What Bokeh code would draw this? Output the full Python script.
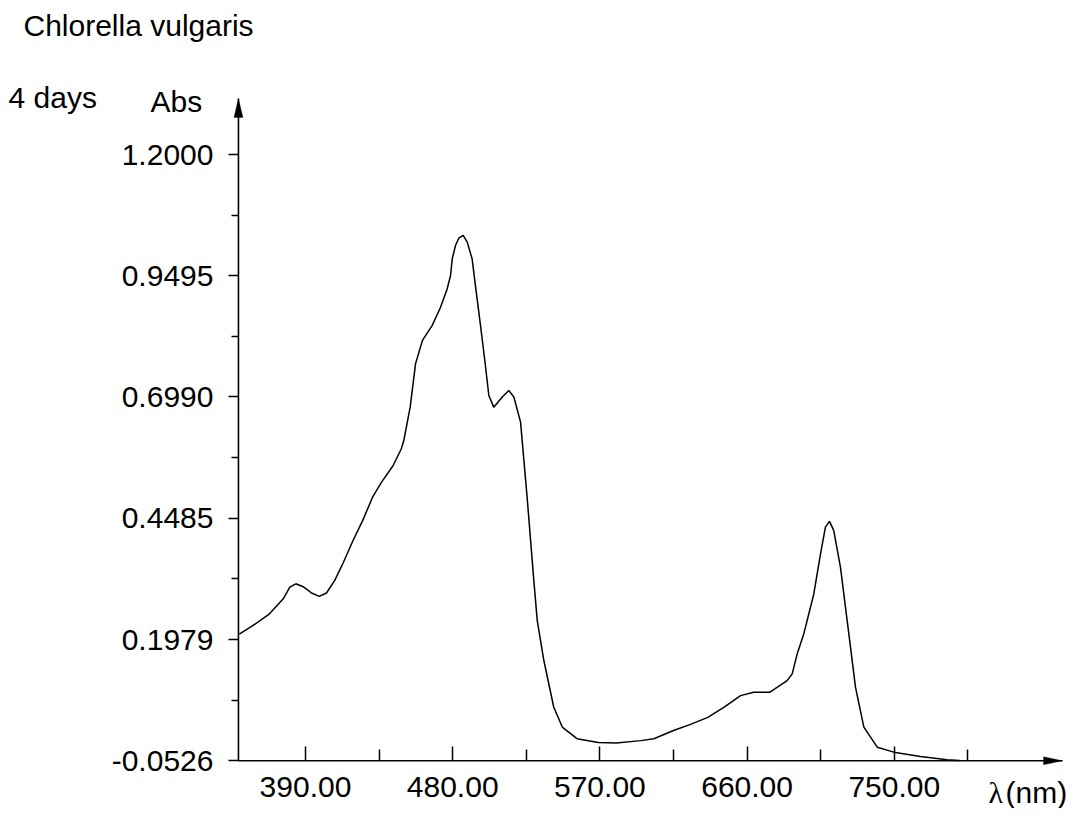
from bokeh.plotting import figure
from bokeh.models import (Range1d, FixedTicker, PrintfTickFormatter, Label,
                          Arrow, PolyAnnotation)
from bokeh.embed import file_html
from bokeh.resources import INLINE

# ---------------- data ----------------
title_text = "Chlorella vulgaris"
sample_text = "4 days"
y_axis_title = "Abs"
x_axis_symbol = "λ"
x_axis_unit = "(nm)"

wavelength = [349.5, 358, 368, 376.4, 380.4, 384.1, 388.6, 393.7, 398.4, 402.8,
              407.9, 413, 419, 425, 431, 436.5, 443.5, 448.6, 450.1, 454, 457.3,
              461.5, 467.5, 472.5, 476.6, 478.7, 479.7, 481.7, 483.7, 486.4,
              488.9, 491.9, 493.9, 497, 500, 502.1, 505.1, 510.3, 514.3, 517.4,
              521.5, 525.5, 529.6, 531.7, 533.7, 535.7, 541.8, 547, 556, 569,
              580, 595, 603, 615, 625, 636, 646, 656, 664, 674, 684.5, 687.6,
              690.6, 694.7, 700.8, 704.9, 707.9, 710.4, 713, 717.1, 722.2,
              726.3, 731.4, 739.6, 749.7, 766, 782.3, 790]
absorbance = [0.209, 0.227, 0.251, 0.282, 0.306, 0.313, 0.307, 0.294, 0.287,
              0.294, 0.320, 0.356, 0.402, 0.444, 0.492, 0.523, 0.557, 0.592,
              0.609, 0.678, 0.768, 0.816, 0.847, 0.884, 0.922, 0.950, 0.984,
              1.012, 1.027, 1.033, 1.019, 0.984, 0.929, 0.847, 0.764, 0.702,
              0.678, 0.699, 0.7125, 0.699, 0.647, 0.492, 0.320, 0.237, 0.196,
              0.155, 0.058, 0.017, -0.007, -0.015, -0.016, -0.011, -0.007,
              0.010, 0.022, 0.037, 0.058, 0.082, 0.089, 0.089, 0.113, 0.127,
              0.168, 0.210, 0.292, 0.375, 0.430, 0.442, 0.423, 0.347, 0.210,
              0.099, 0.017, -0.0245, -0.0348, -0.0437, -0.0506, -0.052]

x_major_ticks = [390, 480, 570, 660, 750]
x_minor_ticks = [435, 525, 615, 705, 795]
y_major_ticks = [-0.0526, 0.1979, 0.4485, 0.6990, 0.9495, 1.2000]
y_minor_ticks = [0.0726, 0.3232, 0.5737, 0.8242, 1.0747]

# ---------------- layout ----------------
W, H = 1074, 808
PXX = 1.6355      # px per nm
PXY = 484.0       # px per Abs unit
REF_X, REF_PX = 390.0, 305.0
REF_Y, REF_PY = 1.2, 154.0
X0 = 349.0        # where the axes cross
Y0 = -0.0526


def dx(px):
    return REF_X + (px - REF_PX) / PXX


def dy(py):
    return REF_Y - (py - REF_PY) / PXY


FONT = "Liberation Sans"
FS = "30px"

p = figure(width=W, height=H,
           x_range=Range1d(dx(0), dx(W)), y_range=Range1d(dy(H), dy(0)),
           output_backend="svg", toolbar_location=None,
           min_border_left=0, min_border_right=0, min_border_top=0,
           min_border_bottom=0)
p.outline_line_color = None
p.grid.visible = False
p.background_fill_color = "white"
p.border_fill_color = "white"

xa = p.xaxis[0]
xa.fixed_location = Y0
xa.ticker = FixedTicker(ticks=x_major_ticks, minor_ticks=x_minor_ticks)
xa.formatter = PrintfTickFormatter(format="%.2f")
xa.axis_line_color = None
xa.major_tick_in = 14
xa.major_tick_out = 0
xa.minor_tick_in = 11
xa.minor_tick_out = 0
xa.major_tick_line_color = "black"
xa.minor_tick_line_color = "black"
xa.major_tick_line_width = 1.5
xa.minor_tick_line_width = 1.5
xa.major_label_text_font = FONT
xa.major_label_text_font_size = FS
xa.major_label_text_color = "black"
xa.major_label_standoff = 16

ya = p.yaxis[0]
ya.fixed_location = X0
ya.ticker = FixedTicker(ticks=y_major_ticks, minor_ticks=y_minor_ticks)
ya.formatter = PrintfTickFormatter(format="%.4f")
ya.axis_line_color = None
ya.major_tick_in = 0
ya.major_tick_out = 10
ya.minor_tick_in = 0
ya.minor_tick_out = 7
ya.major_tick_line_color = "black"
ya.minor_tick_line_color = "black"
ya.major_tick_line_width = 1.5
ya.minor_tick_line_width = 1.5
ya.major_label_text_font = FONT
ya.major_label_text_font_size = FS
ya.major_label_text_color = "black"
ya.major_label_standoff = 15

# spectrum
p.line(wavelength, absorbance, line_color="black", line_width=1.5)

# axis lines with arrow heads
x_tip = dx(1062)
y_tip = dy(98)
p.add_layout(Arrow(x_start=X0, y_start=Y0, x_end=x_tip, y_end=Y0, end=None,
                   line_color="black", line_width=1.6))
p.add_layout(Arrow(x_start=X0, y_start=Y0, x_end=X0, y_end=y_tip, end=None,
                   line_color="black", line_width=1.6))
hx = 19 / PXX
hw = 4 / PXY
p.add_layout(PolyAnnotation(xs=[x_tip, x_tip - hx, x_tip - hx],
                            ys=[Y0, Y0 + hw, Y0 - hw],
                            fill_color="black", fill_alpha=1,
                            line_color="black", line_width=1))
vy = 19 / PXY
vw = 4.5 / PXX
p.add_layout(PolyAnnotation(xs=[X0, X0 - vw, X0 + vw],
                            ys=[y_tip, y_tip - vy, y_tip - vy],
                            fill_color="black", fill_alpha=1,
                            line_color="black", line_width=1))


# texts
def add_text(txt, px, py, font=FONT, size=FS):
    p.add_layout(Label(x=dx(px), y=dy(py), text=txt, text_font=font,
                       text_font_size=size, text_color="black",
                       text_align="left", text_baseline="alphabetic"))


add_text(title_text, 23, 25)
add_text(sample_text, 8, 97)
add_text(y_axis_title, 150, 101)
add_text(x_axis_symbol, 988, 792, font="Liberation Serif")
add_text(x_axis_unit, 1005, 792)

open("out.html", "w").write(file_html(p, INLINE))
